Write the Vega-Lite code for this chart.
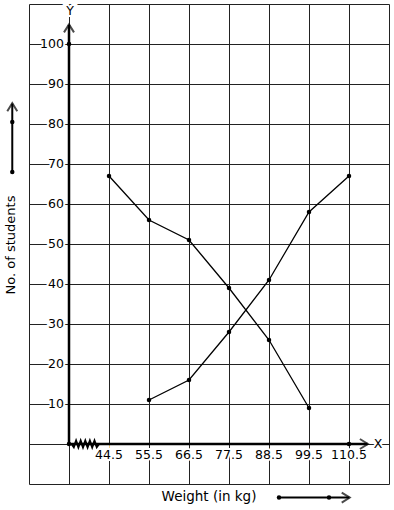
{
  "$schema": "https://vega.github.io/schema/vega-lite/v6.json",
  "autosize": "none",
  "width": 360,
  "height": 480,
  "padding": {"left": 29, "top": 4, "right": 5, "bottom": 26},
  "background": "white",
  "config": {
    "view": {"stroke": "#222", "strokeWidth": 1},
    "font": "DejaVu Sans"
  },
  "datasets": {
    "ogive": [
      {"x": 44.5, "y": 67, "s": "less"},
      {"x": 55.5, "y": 56, "s": "less"},
      {"x": 66.5, "y": 51, "s": "less"},
      {"x": 77.5, "y": 39, "s": "less"},
      {"x": 88.5, "y": 26, "s": "less"},
      {"x": 99.5, "y": 9, "s": "less"},
      {"x": 55.5, "y": 11, "s": "more"},
      {"x": 66.5, "y": 16, "s": "more"},
      {"x": 77.5, "y": 28, "s": "more"},
      {"x": 88.5, "y": 41, "s": "more"},
      {"x": 99.5, "y": 58, "s": "more"},
      {"x": 110.5, "y": 67, "s": "more"}
    ],
    "dots": [
      {"x": 33.5, "y": 0},
      {"x": 110.5, "y": 0},
      {"x": 33.5, "y": 100},
      {"x": 17.9, "y": 68},
      {"x": 17.9, "y": 80.5},
      {"x": 91.25, "y": -13.4},
      {"x": 105, "y": -13.4}
    ],
    "axes": [
      {"x": 33.5, "y": 0, "x2": 33.5, "y2": 104.8},
      {"x": 33.5, "y": 0, "x2": 115.6, "y2": 0}
    ],
    "arrows": [
      {"x": 17.9, "y": 68, "x2": 17.9, "y2": 85.1},
      {"x": 91.25, "y": -13.4, "x2": 110.6, "y2": -13.4}
    ],
    "up": [
      {"x": 33.5, "y": 104.9},
      {"x": 17.9, "y": 85.2}
    ],
    "right": [
      {"x": 115.7, "y": 0},
      {"x": 110.7, "y": -13.4}
    ],
    "zig": [
      {"x": 34.19, "y": 0},
      {"x": 34.82, "y": -0.8},
      {"x": 35.45, "y": 0.8},
      {"x": 36.08, "y": -0.8},
      {"x": 36.71, "y": 0.8},
      {"x": 37.35, "y": -0.8},
      {"x": 37.98, "y": 0.8},
      {"x": 38.61, "y": -0.8},
      {"x": 39.24, "y": 0.8},
      {"x": 39.88, "y": -0.8},
      {"x": 40.51, "y": 0.8},
      {"x": 41.14, "y": -0.8},
      {"x": 41.77, "y": 0}
    ],
    "ylab": [
      {"x": 32.1, "y": 10, "t": "10"},
      {"x": 32.1, "y": 20, "t": "20"},
      {"x": 32.1, "y": 30, "t": "30"},
      {"x": 32.1, "y": 40, "t": "40"},
      {"x": 32.1, "y": 50, "t": "50"},
      {"x": 32.1, "y": 60, "t": "60"},
      {"x": 32.1, "y": 70, "t": "70"},
      {"x": 32.1, "y": 80, "t": "80"},
      {"x": 32.1, "y": 90, "t": "90"},
      {"x": 32.1, "y": 100, "t": "100"}
    ],
    "clab": [
      {"x": 44.5, "y": -2.75, "t": "44.5"},
      {"x": 55.5, "y": -2.75, "t": "55.5"},
      {"x": 66.5, "y": -2.75, "t": "66.5"},
      {"x": 77.5, "y": -2.75, "t": "77.5"},
      {"x": 88.5, "y": -2.75, "t": "88.5"},
      {"x": 99.5, "y": -2.75, "t": "99.5"},
      {"x": 110.5, "y": -2.75, "t": "110.5"},
      {"x": 118.5, "y": 0, "t": "X"},
      {"x": 33.8, "y": 108.3, "t": "Y"}
    ],
    "xtitle": [{"x": 72, "y": -13.2, "t": "Weight (in kg)"}],
    "ytitle": [{"x": 17.55, "y": 49.75, "t": "No. of students"}]
  },
  "encoding": {
    "x": {
      "field": "x",
      "type": "quantitative",
      "scale": {"domain": [22.5, 121.5], "nice": false, "zero": false},
      "axis": {
        "values": [33.5, 44.5, 55.5, 66.5, 77.5, 88.5, 99.5, 110.5],
        "grid": true, "gridColor": "#222", "gridOpacity": 1, "gridWidth": 1,
        "labels": false, "ticks": false, "domain": false, "title": null
      }
    },
    "y": {
      "field": "y",
      "type": "quantitative",
      "scale": {"domain": [-10, 110], "nice": false, "zero": false},
      "axis": {
        "values": [0, 10, 20, 30, 40, 50, 60, 70, 80, 90, 100],
        "grid": true, "gridColor": "#222", "gridOpacity": 1, "gridWidth": 1,
        "labels": false, "ticks": false, "domain": false, "title": null
      }
    }
  },
  "layer": [
    {
      "data": {"name": "ylab"},
      "mark": {"type": "text", "align": "right", "baseline": "middle", "fontSize": 12.5, "stroke": "white", "strokeWidth": 4, "fill": "white"},
      "encoding": {"text": {"field": "t"}}
    },
    {
      "data": {"name": "clab"},
      "mark": {"type": "text", "align": "center", "baseline": "middle", "fontSize": 12.5, "stroke": "white", "strokeWidth": 4, "fill": "white"},
      "encoding": {"text": {"field": "t"}}
    },
    {
      "data": {"name": "axes"},
      "mark": {"type": "rule", "color": "black", "strokeWidth": 2.5},
      "encoding": {"x2": {"field": "x2"}, "y2": {"field": "y2"}}
    },
    {
      "data": {"name": "arrows"},
      "mark": {"type": "rule", "color": "black", "strokeWidth": 2},
      "encoding": {"x2": {"field": "x2"}, "y2": {"field": "y2"}}
    },
    {
      "data": {"name": "up"},
      "mark": {"type": "point", "shape": "M-1,1.6L0,0L1,1.6", "size": 100, "filled": false, "stroke": "black", "strokeWidth": 2},
      "encoding": {}
    },
    {
      "data": {"name": "right"},
      "mark": {"type": "point", "shape": "M-1.6,-1L0,0L-1.6,1", "size": 100, "filled": false, "stroke": "black", "strokeWidth": 2},
      "encoding": {}
    },
    {
      "data": {"name": "zig"},
      "mark": {"type": "line", "color": "black", "strokeWidth": 2},
      "encoding": {}
    },
    {
      "data": {"name": "ogive"},
      "mark": {"type": "line", "color": "black", "strokeWidth": 1.3},
      "encoding": {"detail": {"field": "s"}}
    },
    {
      "data": {"name": "ogive"},
      "mark": {"type": "point", "filled": true, "color": "black", "size": 20, "opacity": 1},
      "encoding": {}
    },
    {
      "data": {"name": "dots"},
      "mark": {"type": "point", "filled": true, "color": "black", "size": 20, "opacity": 1},
      "encoding": {}
    },
    {
      "data": {"name": "ylab"},
      "mark": {"type": "text", "align": "right", "baseline": "middle", "fontSize": 12.5, "color": "black"},
      "encoding": {"text": {"field": "t"}}
    },
    {
      "data": {"name": "clab"},
      "mark": {"type": "text", "align": "center", "baseline": "middle", "fontSize": 12.5, "color": "black"},
      "encoding": {"text": {"field": "t"}}
    },
    {
      "data": {"name": "xtitle"},
      "mark": {"type": "text", "align": "center", "baseline": "middle", "fontSize": 13.5, "color": "black"},
      "encoding": {"text": {"field": "t"}}
    },
    {
      "data": {"name": "ytitle"},
      "mark": {"type": "text", "align": "center", "baseline": "middle", "fontSize": 13, "angle": 270, "color": "black"},
      "encoding": {"text": {"field": "t"}}
    }
  ]
}
